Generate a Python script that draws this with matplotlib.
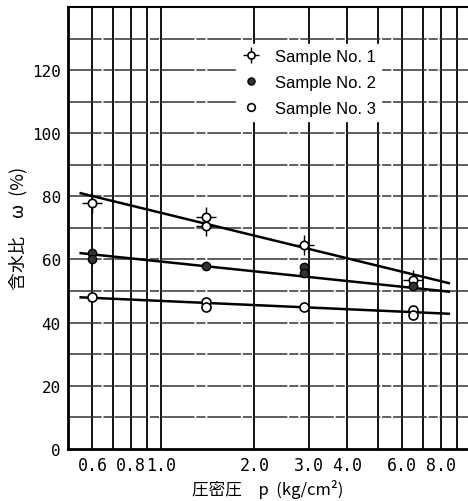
# -*- coding: utf-8 -*-
import matplotlib
matplotlib.use("Agg")
import matplotlib.pyplot as plt
from matplotlib.ticker import FixedLocator, NullFormatter

plt.rcParams['font.family'] = ['Noto Sans CJK JP', 'DejaVu Sans']

# 圧密圧 p (kg/cm2) と 含水比 w (%)
p1 = [0.6, 1.4, 1.4, 2.9, 6.5]
w1 = [78.0, 73.5, 70.5, 64.5, 53.5]
p2 = [0.6, 0.6, 1.4, 2.9, 2.9, 6.5]
w2 = [62.0, 60.0, 57.8, 57.5, 55.8, 51.5]
p3 = [0.6, 1.4, 1.4, 2.9, 6.5, 6.5]
w3 = [48.0, 46.5, 45.0, 44.8, 44.0, 42.5]

# 回帰直線 (両端)
fit_p = [0.55, 8.5]
fit1 = [81.0, 52.5]
fit2 = [62.0, 49.8]
fit3 = [48.0, 42.8]

xticks = [0.6, 0.8, 1.0, 2.0, 3.0, 4.0, 6.0, 8.0]
xticklabels = ["0.6", "0.8", "1.0", "2.0", "3.0", "4.0", "6.0", "8.0"]
xgrid = [0.6, 0.7, 0.8, 0.9, 1, 2, 3, 4, 5, 6, 7, 8, 9]
yticks = [0, 20, 40, 60, 80, 100, 120]
ygrid = [10, 20, 30, 40, 50, 60, 70, 80, 90, 100, 110, 120, 130]

fig = plt.figure(figsize=(4.68, 5.02), dpi=100)
ax = fig.add_axes([0.145, 0.104, 0.855, 0.880])
ax.set_xscale("log")
ax.set_xlim(0.5, 9.8)
ax.set_ylim(0, 140)

# grid
for g in xgrid:
    ax.axvline(g, color="black", lw=1.3, zorder=1)
for g in ygrid:
    ax.axhline(g, color="#333333", lw=1.1, ls=(0, (22, 1.2, 6, 1.2)), zorder=1)

# lines
for f in [fit1, fit2, fit3]:
    ax.plot(fit_p, f, color="black", lw=1.8, zorder=3)

# markers
h1a, = ax.plot(p1, w1, ls="none", marker="+", ms=14, mew=1.0, color="black", zorder=4)
h1b, = ax.plot(p1, w1, ls="none", marker="o", ms=6, mfc="white", mec="black", mew=1.2, zorder=5)
h2, = ax.plot(p2, w2, ls="none", marker="o", ms=6, mfc="#333333", mec="black", mew=1.0, zorder=5)
h3, = ax.plot(p3, w3, ls="none", marker="o", ms=6.5, mfc="white", mec="black", mew=1.2, zorder=5)

leg = ax.legend([(h1a, h1b), h2, h3], ["Sample No. 1", "Sample No. 2", "Sample No. 3"],
                loc="upper left", bbox_to_anchor=(0.40, 0.935), frameon=True,
                fancybox=False, edgecolor="white", facecolor="white", framealpha=1,
                handlelength=1.2, handletextpad=0.8, labelspacing=0.65, borderpad=0.3,
                markerscale=0.85, prop={"family": ["Liberation Sans"], "size": 12})
leg.set_zorder(6)

ax.xaxis.set_major_locator(FixedLocator(xticks))
ax.xaxis.set_minor_formatter(NullFormatter())
ax.set_xticks(xticks)
ax.set_xticklabels(xticklabels, family="DejaVu Sans Mono", fontsize=12)
ax.set_yticks(yticks)
ax.set_yticklabels([str(v) for v in yticks], family="DejaVu Sans Mono", fontsize=11.5)
ax.tick_params(which="both", length=0, pad=5)

ax.spines["right"].set_visible(False)
for s in ["left", "bottom"]:
    ax.spines[s].set_linewidth(2.0)
ax.spines["top"].set_linewidth(1.5)

ax.set_xlabel("圧密圧　p  (kg/cm²)", fontsize=12, labelpad=4)
ax.set_ylabel("含水比　ω  (%)", fontsize=13, labelpad=3)

fig.savefig("out.png", dpi=100)
